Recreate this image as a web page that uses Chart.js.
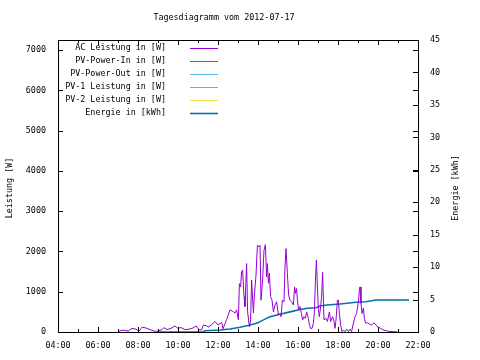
<!DOCTYPE html>
<html>
<head>
<meta charset="utf-8">
<script src="https://cdn.jsdelivr.net/npm/chart.js@4"></script>
<style>
  html, body { margin: 0; padding: 0; background: #fff; }
  #wrap { width: 480px; height: 360px; }
</style>
</head>
<body>
<div id="wrap"><canvas id="mychart" width="480" height="360"></canvas></div>
<script>
// Data for the chart (hours of day)
const acHours = [7.0, 7.15, 7.35, 7.5, 7.7, 7.9, 8.05, 8.2, 8.4, 8.6, 8.8, 9.0, 9.2, 9.3, 9.45, 9.65, 9.85, 10.0, 10.15, 10.35,
  10.55, 10.75, 10.9, 11.05, 11.18, 11.27, 11.43, 11.5, 11.68, 11.85, 12.0, 12.18, 12.25, 12.43, 12.6, 12.77, 12.85, 12.93, 13.02, 13.07,
  13.13, 13.18, 13.23, 13.3, 13.35, 13.43, 13.48, 13.57, 13.63, 13.68, 13.77, 13.82, 13.9, 13.97, 14.03, 14.1, 14.15, 14.23, 14.3, 14.37,
  14.43, 14.47, 14.52, 14.57, 14.63, 14.7, 14.77, 14.85, 14.93, 15.02, 15.1, 15.15, 15.22, 15.3, 15.35, 15.4, 15.47, 15.53, 15.6, 15.68,
  15.77, 15.83, 15.88, 15.93, 15.97, 16.03, 16.1, 16.17, 16.23, 16.3, 16.37, 16.43, 16.52, 16.57, 16.63, 16.7, 16.77, 16.82, 16.87, 16.92,
  16.97, 17.02, 17.07, 17.13, 17.18, 17.23, 17.3, 17.4, 17.47, 17.57, 17.63, 17.73, 17.8, 17.85, 17.9, 17.97, 18.02, 18.07, 18.13, 18.2,
  18.27, 18.35, 18.43, 18.52, 18.6, 18.68, 18.77, 18.85, 18.93, 19.02, 19.07, 19.1, 19.15, 19.2, 19.27, 19.32, 19.38, 19.47, 19.57, 19.68,
  19.8, 19.9, 20.02, 20.13, 20.27, 20.43, 20.6, 20.77, 20.97];
const acLeistung = [0, 40, 40, 20, 90, 70, 20, 120, 100, 60, 20, 20, 60, 110, 60, 90, 150, 90, 110, 60,
  70, 100, 150, 60, 50, 170, 160, 120, 180, 260, 170, 240, 80, 310, 550, 500, 470, 550, 300, 1200,
  1120, 1500, 1540, 880, 630, 1700, 500, 130, 300, 1290, 470, 920, 1410, 2150, 2110, 2150, 790, 1290, 2030, 2170,
  1370, 1700, 1210, 1460, 880, 790, 500, 670, 750, 420, 460, 380, 790, 750, 1620, 2070, 1450, 920, 790, 750,
  670, 1120, 960, 1080, 790, 550, 630, 460, 300, 380, 340, 500, 340, 170, 90, 90, 220, 500, 1250, 1790,
  1120, 550, 380, 630, 880, 1480, 300, 340, 260, 500, 260, 380, 260, 90, 300, 790, 790, 460, 170, 10,
  50, 10, 70, 10, 70, 10, 220, 380, 460, 750, 1040, 1120, 710, 460, 590, 340, 220, 230, 200, 170,
  230, 170, 120, 90, 50, 30, 10, 10, 0];

const energieHours = [8.95, 11.25, 11.35, 12.1, 12.6, 13.1, 13.6, 14.0, 14.1, 14.43, 14.6, 15.1, 15.6, 16.0, 16.45, 16.9, 17.1, 17.45, 18.1, 18.9, 19.4, 19.9, 21.55];
const energie = [0, 0.05, 0.2, 0.3, 0.46, 0.72, 1.08, 1.43, 1.6, 2.1, 2.35, 2.75, 3.1, 3.4, 3.65, 3.74, 4.0, 4.16, 4.31, 4.58, 4.67, 4.93, 4.93];

const seriesLabels = ['AC Leistung in [W]', 'PV-Power-In in [W]', 'PV-Power-Out in [W]', 'PV-1 Leistung in [W]', 'PV-2 Leistung in [W]', 'Energie in [kWh]'];
const seriesColors = ['#9400d3', '#009e73', '#56b4e9', '#e69f00', '#f0e442', '#0072b2'];

const xTicks = [4, 6, 8, 10, 12, 14, 16, 18, 20, 22];
const yTicks = [0, 1000, 2000, 3000, 4000, 5000, 6000, 7000];
const y2Ticks = [0, 5, 10, 15, 20, 25, 30, 35, 40, 45];
const chartTitle = 'Tagesdiagramm vom 2012-07-17';
const leftTitle = 'Leistung [W]';
const rightTitle = 'Energie [kWh]';

const monoFont = "'DejaVu Sans Mono', monospace";
const fontSize = 8.4;

function toPoints(xs, ys) {
  return xs.map((x, i) => ({ x: x, y: ys[i] }));
}

const data = {
  datasets: seriesLabels.map((label, i) => ({
    label: label,
    data: i === 0 ? toPoints(acHours, acLeistung) : (i === 5 ? toPoints(energieHours, energie) : []),
    borderColor: seriesColors[i],
    borderWidth: i === 5 ? 1.6 : 1,
    pointRadius: 0,
    fill: false,
    tension: 0,
    yAxisID: i === 5 ? 'y2' : 'y'
  }))
};

// gnuplot-ish frame: border, inward ticks, legend, titles
const gnuplotFrame = {
  id: 'gnuplotFrame',
  afterDraw(chart) {
    const ctx = chart.ctx;
    const a = chart.chartArea;
    const sx = chart.scales.x, sy = chart.scales.y, sy2 = chart.scales.y2;
    ctx.save();
    ctx.strokeStyle = '#000';
    ctx.lineWidth = 1;
    ctx.beginPath();
    // x ticks every hour, longer every 2 hours, bottom and top
    for (let h = 4; h <= 22; h++) {
      const px = Math.round(sx.getPixelForValue(h)) + 0.5;
      const len = h % 2 === 0 ? 5 : 3;
      ctx.moveTo(px, a.bottom); ctx.lineTo(px, a.bottom - len);
      ctx.moveTo(px, a.top); ctx.lineTo(px, a.top + len);
    }
    // left ticks, mirrored on right
    sy.ticks.forEach(t => {
      const py = Math.round(sy.getPixelForValue(t.value)) + 0.5;
      ctx.moveTo(a.left, py); ctx.lineTo(a.left + 5, py);
      ctx.moveTo(a.right, py); ctx.lineTo(a.right - 5, py);
    });
    sy2.ticks.forEach(t => {
      const py = Math.round(sy2.getPixelForValue(t.value)) + 0.5;
      ctx.moveTo(a.right, py); ctx.lineTo(a.right - 5, py);
    });
    ctx.stroke();
    ctx.strokeRect(Math.round(a.left) + 0.5, Math.round(a.top) + 0.5, Math.round(a.right - a.left), Math.round(a.bottom - a.top));

    ctx.font = fontSize + 'px ' + monoFont;
    ctx.fillStyle = '#000';
    ctx.textBaseline = 'middle';

    // title
    ctx.textAlign = 'center';
    ctx.fillText(chartTitle, 224, 18);

    // legend
    ctx.textAlign = 'right';
    chart.data.datasets.forEach((ds, i) => {
      const y = 47.5 + i * 13;
      ctx.fillStyle = '#000';
      ctx.fillText(ds.label, 166, y);
      ctx.strokeStyle = ds.borderColor;
      ctx.lineWidth = ds.borderWidth;
      ctx.beginPath();
      ctx.moveTo(190, Math.round(y) + 0.5);
      ctx.lineTo(218, Math.round(y) + 0.5);
      ctx.stroke();
    });

    // axis titles, both reading bottom to top
    ctx.fillStyle = '#000';
    ctx.textAlign = 'center';
    [[leftTitle, 10], [rightTitle, 456]].forEach(([txt, x]) => {
      ctx.save();
      ctx.translate(x, 188);
      ctx.rotate(-Math.PI / 2);
      ctx.fillText(txt, 0, 0);
      ctx.restore();
    });
    ctx.restore();
  }
};

const tickFont = { family: monoFont, size: fontSize };

const config = {
  type: 'line',
  data,
  options: {
    responsive: false,
    animation: false,
    layout: { padding: { top: 40 } },
    plugins: {
      legend: { display: false },
      tooltip: { enabled: false },
      title: { display: false }
    },
    scales: {
      x: {
        type: 'linear',
        min: 4,
        max: 22,
        afterBuildTicks: scale => { scale.ticks = xTicks.map(v => ({ value: v })); },
        ticks: {
          color: '#000',
          font: tickFont,
          padding: 9,
          maxRotation: 0,
          autoSkip: false,
          callback: v => (v < 10 ? '0' : '') + v + ':00'
        },
        grid: { display: false, drawTicks: false },
        border: { display: false },
        afterFit: scale => { scale.height = 28; }
      },
      y: {
        position: 'left',
        min: 0,
        max: 7250,
        afterBuildTicks: scale => { scale.ticks = yTicks.map(v => ({ value: v })); },
        ticks: { color: '#000', font: tickFont, padding: 12, autoSkip: false, callback: v => String(v) },
        grid: { display: false, drawTicks: false },
        border: { display: false },
        afterFit: scale => { scale.width = 58; }
      },
      y2: {
        position: 'right',
        min: 0,
        max: 45,
        afterBuildTicks: scale => { scale.ticks = y2Ticks.map(v => ({ value: v })); },
        ticks: { color: '#000', font: tickFont, padding: 12, autoSkip: false, callback: v => String(v) },
        grid: { display: false, drawTicks: false },
        border: { display: false },
        afterFit: scale => { scale.width = 62; }
      }
    }
  },
  plugins: [gnuplotFrame]
};

let myChart = new Chart(document.getElementById('mychart'), config);
</script>
</body>
</html>
